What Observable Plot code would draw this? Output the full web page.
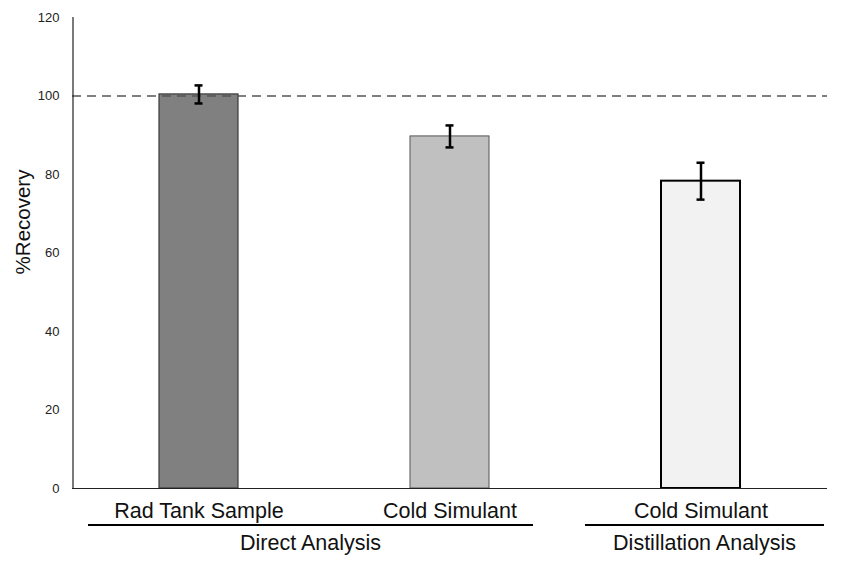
<!DOCTYPE html>
<html>
<head>
<meta charset="utf-8">
<script src="https://cdn.jsdelivr.net/npm/d3@7"></script>
<script src="https://cdn.jsdelivr.net/npm/@observablehq/plot@0.6"></script>
<style>
  body { margin: 0; background: #fff; }
  svg { font-family: "Liberation Sans", Arial, sans-serif; }
</style>
</head>
<body>
<div id="chart"></div>
<script>
// ---- data ----
const ids = ["A", "B", "C"];
const categories = ["Rad Tank Sample", "Cold Simulant", "Cold Simulant"];
const recovery = [100.4, 89.7, 78.3];
const errors = [2.3, 2.8, 4.7];
const fills = ["#808080", "#c0c0c0", "#f2f2f2"];
const yTicks = [0, 20, 40, 60, 80, 100, 120];
const groupNames = ["Direct Analysis", "Distillation Analysis"];
const groupFirst = ["A", "C"];
const groupLast = ["B", "C"];
const reference = 100;

const rows = ids.map((id, i) => ({
  id, label: categories[i], value: recovery[i], err: errors[i], fill: fills[i]
}));
const labelOf = Object.fromEntries(ids.map((id, i) => [id, categories[i]]));

const barStroke = ["#3a3a3a", "#555555", "#000000"];
const barStrokeW = [1.2, 1, 2];

const plot = Plot.plot({
  width: 847,
  height: 561,
  marginLeft: 72,
  marginRight: 20,
  marginTop: 17,
  marginBottom: 73,
  style: {fontFamily: "'Liberation Sans', Arial, sans-serif", background: "#fff"},
  x: {domain: ids, paddingInner: 0.686, paddingOuter: 0.343, align: 0.5},
  y: {domain: [0, 120]},
  marks: [
    Plot.axisY({ticks: yTicks, tickSize: 0, tickPadding: 13, label: null, fontSize: 13, color: "#222"}),
    Plot.axisX({tickSize: 0, tickPadding: 14, label: null, fontSize: 21.5, color: "#111",
      tickFormat: d => labelOf[d]}),
    Plot.barY(rows, {x: "id", y: "value", fill: "fill",
      stroke: (d, i) => barStroke[i], strokeWidth: (d, i) => barStrokeW[i]}),
    Plot.ruleY([reference], {stroke: "#555", strokeWidth: 1.5, strokeDasharray: "9,6"}),
    Plot.ruleX(rows, {x: "id", y1: d => d.value - d.err, y2: d => d.value + d.err,
      stroke: "#000", strokeWidth: 2.5}),
    Plot.tickY(rows, {x: "id", y: d => d.value + d.err, stroke: "#000", strokeWidth: 2.5,
      insetLeft: 35.5, insetRight: 35.5}),
    Plot.tickY(rows, {x: "id", y: d => d.value - d.err, stroke: "#000", strokeWidth: 2.5,
      insetLeft: 35.5, insetRight: 35.5}),
    Plot.ruleY([0], {stroke: "#222", strokeWidth: 1.2}),
    Plot.text(["%Recovery"], {frameAnchor: "left", textAnchor: "middle", rotate: -90,
      dx: -49, dy: -31, fontSize: 20.5, fill: "#111"})
  ]
});

document.getElementById("chart").append(plot);

// ---- y-axis line and group labels, placed with the plot's scales ----
const xs = plot.scale("x");
const ys = plot.scale("y");
const svg = d3.select(plot);
const step = xs.step;
const bw = xs.bandwidth;
const x0 = xs.apply(ids[0]) - (step - bw) / 2;

svg.append("line")
  .attr("x1", x0).attr("x2", x0)
  .attr("y1", ys.apply(120)).attr("y2", ys.apply(0))
  .attr("stroke", "#222").attr("stroke-width", 1.2);

const groupInset = [[15, 42], [10, 2]];
const lineY = ys.apply(0) + 37;
groupNames.forEach((name, g) => {
  const start = xs.apply(groupFirst[g]) - (step - bw) / 2 + groupInset[g][0];
  const end = xs.apply(groupLast[g]) + bw + (step - bw) / 2 - groupInset[g][1];
  svg.append("line")
    .attr("x1", start).attr("x2", end)
    .attr("y1", lineY).attr("y2", lineY)
    .attr("stroke", "#000").attr("stroke-width", 1.8);
  svg.append("text")
    .attr("x", (start + end) / 2).attr("y", lineY + 25)
    .attr("text-anchor", "middle")
    .attr("font-size", 21.5).attr("fill", "#111")
    .attr("font-family", "'Liberation Sans', Arial, sans-serif")
    .text(name);
});
</script>
</body>
</html>
